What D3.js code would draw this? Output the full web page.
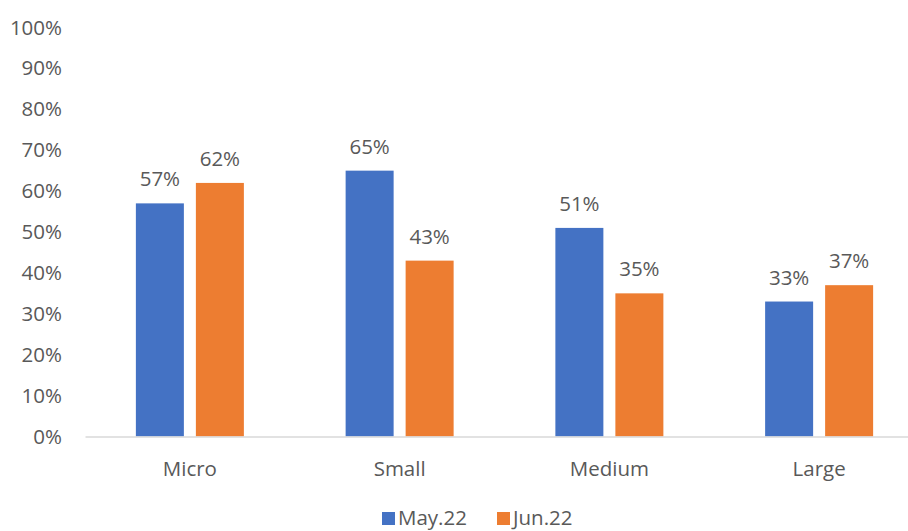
<!DOCTYPE html>
<html>
<head>
<meta charset="utf-8">
<script src="https://cdn.jsdelivr.net/npm/d3@7/dist/d3.min.js"></script>
<style>
  html, body { margin: 0; padding: 0; background: #fff; }
  svg { display: block; }
  text { font-family: "Open Sans", "Noto Sans", sans-serif; fill: #595959; }
</style>
</head>
<body>
<svg id="chart" width="908" height="531"></svg>
<script>
// Share of firms by size class, two survey months
const categories = ["Micro", "Small", "Medium", "Large"];
const seriesNames = ["May.22", "Jun.22"];
const may22 = [57, 65, 51, 33];
const jun22 = [62, 43, 35, 37];
const yTicks = [0, 10, 20, 30, 40, 50, 60, 70, 80, 90, 100];
const colors = ["#4472C4", "#ED7D31"];

const series = [may22, jun22];
const svg = d3.select("#chart");
const fontSize = 20.5;

const plot = { left: 85, right: 924, top: 27.5, bottom: 436.5 };

const x = d3.scaleBand().domain(categories).range([plot.left, plot.right]).padding(0);
const groupWidth = 108;
const xs = d3.scaleBand().domain(seriesNames)
  .range([(x.bandwidth() - groupWidth) / 2, (x.bandwidth() + groupWidth) / 2])
  .paddingInner(0.2).paddingOuter(0);
const y = d3.scaleLinear().domain([0, 100]).range([plot.bottom, plot.top]);

// y axis labels (no axis line, no gridlines)
const yAxis = d3.axisLeft(y).tickValues(yTicks).tickFormat(d => d + "%").tickSize(0).tickPadding(0);
const gy = svg.append("g").attr("transform", "translate(62,0)").call(yAxis);
gy.select(".domain").remove();
gy.selectAll("text").attr("font-size", fontSize).attr("fill", "#595959")
  .style("font-family", "'Open Sans', sans-serif");

// bars with value labels
categories.forEach((c, i) => {
  const g = svg.append("g").attr("transform", `translate(${x(c)},0)`);
  seriesNames.forEach((s, j) => {
    const v = series[j][i];
    g.append("rect")
      .attr("x", xs(s))
      .attr("y", y(v))
      .attr("width", xs.bandwidth())
      .attr("height", y(0) - y(v))
      .attr("fill", colors[j]);
    g.append("text")
      .attr("x", xs(s) + xs.bandwidth() / 2)
      .attr("y", y(v) - 17)
      .attr("text-anchor", "middle")
      .attr("font-size", fontSize)
      .attr("fill", "#404040")
      .text(v + "%");
  });
});

// category axis
const xAxis = d3.axisBottom(x).tickSize(0).tickPadding(0);
const gx = svg.append("g").attr("transform", `translate(0,${plot.bottom})`).call(xAxis);
gx.select(".domain").attr("stroke", "#D9D9D9").attr("stroke-width", 1.5);
gx.selectAll("text").attr("font-size", fontSize).attr("fill", "#595959")
  .attr("dy", null).attr("y", 39.5)
  .style("font-family", "'Open Sans', sans-serif");

// legend
const legend = svg.append("g").attr("transform", "translate(382,512)");
const legendX = [0, 115];
seriesNames.forEach((s, j) => {
  const lg = legend.append("g").attr("transform", `translate(${legendX[j]},0)`);
  lg.append("rect").attr("width", 13).attr("height", 13).attr("fill", colors[j]);
  lg.append("text").attr("x", 16).attr("y", 13).attr("font-size", fontSize).text(s);
});
</script>
</body>
</html>
